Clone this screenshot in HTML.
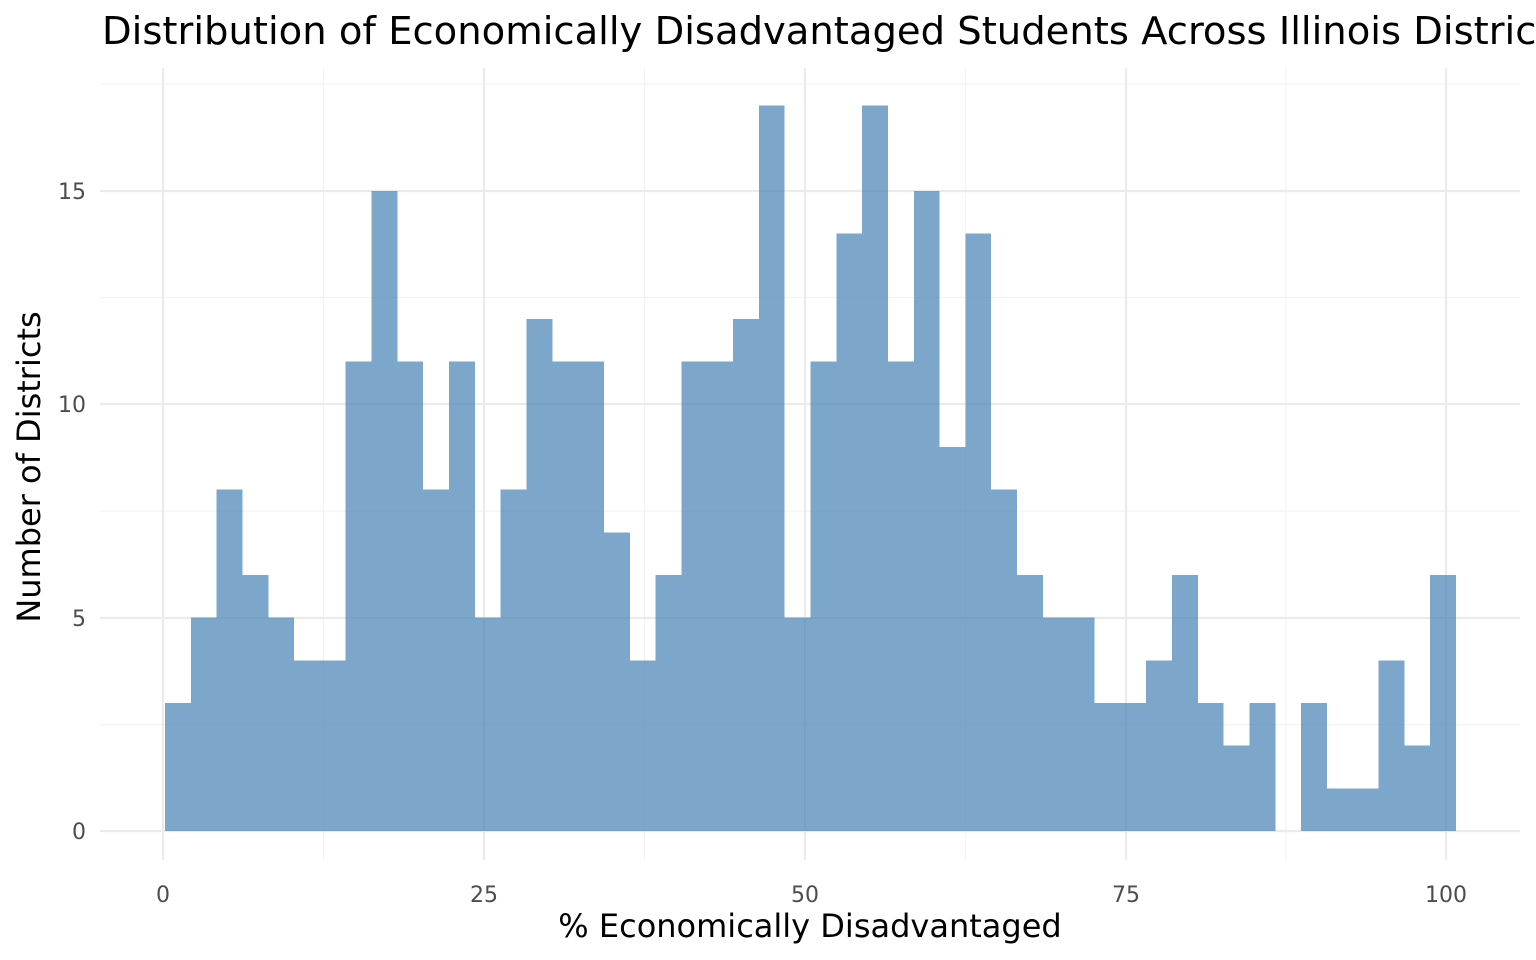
<!DOCTYPE html>
<html><head><meta charset="utf-8"><style>html,body{margin:0;padding:0;background:#fff}svg{display:block}</style></head>
<body>
<svg width="1536" height="960" xmlns="http://www.w3.org/2000/svg" font-family="DejaVu Sans, Liberation Sans, sans-serif">
<rect width="1536" height="960" fill="#fff"/>
<g stroke="#f3f3f3" stroke-width="1.2">
<line x1="100" x2="1520" y1="724.5" y2="724.5"/><line x1="100" x2="1520" y1="511" y2="511"/><line x1="100" x2="1520" y1="297.5" y2="297.5"/><line x1="100" x2="1520" y1="84" y2="84"/>
<line y1="68" y2="860" x1="323.5" x2="323.5"/><line y1="68" y2="860" x1="644.5" x2="644.5"/><line y1="68" y2="860" x1="965.5" x2="965.5"/><line y1="68" y2="860" x1="1286" x2="1286"/>
</g>
<g stroke="#ebebeb" stroke-width="2.2">
<line x1="100" x2="1520" y1="831" y2="831"/><line x1="100" x2="1520" y1="618" y2="618"/><line x1="100" x2="1520" y1="404" y2="404"/><line x1="100" x2="1520" y1="191" y2="191"/>
<line y1="68" y2="860" x1="163" x2="163"/><line y1="68" y2="860" x1="484" x2="484"/><line y1="68" y2="860" x1="805" x2="805"/><line y1="68" y2="860" x1="1126" x2="1126"/><line y1="68" y2="860" x1="1446" x2="1446"/>
</g>
<g fill="#4682b4" fill-opacity="0.7" shape-rendering="crispEdges">
<rect x="165.00" y="703.0" width="25.82" height="128.0"/>
<rect x="190.82" y="617.65" width="25.82" height="213.35"/>
<rect x="216.64" y="489.6" width="25.82" height="341.4"/>
<rect x="242.46" y="575.0" width="25.82" height="256.0"/>
<rect x="268.28" y="617.65" width="25.82" height="213.35"/>
<rect x="294.10" y="660.3" width="25.82" height="170.7"/>
<rect x="319.92" y="660.3" width="25.82" height="170.7"/>
<rect x="345.74" y="361.6" width="25.82" height="469.4"/>
<rect x="371.56" y="190.95" width="25.82" height="640.05"/>
<rect x="397.38" y="361.6" width="25.82" height="469.4"/>
<rect x="423.20" y="489.6" width="25.82" height="341.4"/>
<rect x="449.02" y="361.6" width="25.82" height="469.4"/>
<rect x="474.84" y="617.65" width="25.82" height="213.35"/>
<rect x="500.66" y="489.6" width="25.82" height="341.4"/>
<rect x="526.48" y="319.0" width="25.82" height="512.0"/>
<rect x="552.30" y="361.6" width="25.82" height="469.4"/>
<rect x="578.12" y="361.6" width="25.82" height="469.4"/>
<rect x="603.94" y="532.3" width="25.82" height="298.7"/>
<rect x="629.76" y="660.3" width="25.82" height="170.7"/>
<rect x="655.58" y="575.0" width="25.82" height="256.0"/>
<rect x="681.40" y="361.6" width="25.82" height="469.4"/>
<rect x="707.22" y="361.6" width="25.82" height="469.4"/>
<rect x="733.04" y="319.0" width="25.82" height="512.0"/>
<rect x="758.86" y="105.6" width="25.82" height="725.4"/>
<rect x="784.68" y="617.65" width="25.82" height="213.35"/>
<rect x="810.50" y="361.6" width="25.82" height="469.4"/>
<rect x="836.32" y="233.6" width="25.82" height="597.4"/>
<rect x="862.14" y="105.6" width="25.82" height="725.4"/>
<rect x="887.96" y="361.6" width="25.82" height="469.4"/>
<rect x="913.78" y="190.95" width="25.82" height="640.05"/>
<rect x="939.60" y="447.0" width="25.82" height="384.0"/>
<rect x="965.42" y="233.6" width="25.82" height="597.4"/>
<rect x="991.24" y="489.6" width="25.82" height="341.4"/>
<rect x="1017.06" y="575.0" width="25.82" height="256.0"/>
<rect x="1042.88" y="617.65" width="25.82" height="213.35"/>
<rect x="1068.70" y="617.65" width="25.82" height="213.35"/>
<rect x="1094.52" y="703.0" width="25.82" height="128.0"/>
<rect x="1120.34" y="703.0" width="25.82" height="128.0"/>
<rect x="1146.16" y="660.3" width="25.82" height="170.7"/>
<rect x="1171.98" y="575.0" width="25.82" height="256.0"/>
<rect x="1197.80" y="703.0" width="25.82" height="128.0"/>
<rect x="1223.62" y="745.66" width="25.82" height="85.34"/>
<rect x="1249.44" y="703.0" width="25.82" height="128.0"/>
<rect x="1301.08" y="703.0" width="25.82" height="128.0"/>
<rect x="1326.90" y="788.33" width="25.82" height="42.67"/>
<rect x="1352.72" y="788.33" width="25.82" height="42.67"/>
<rect x="1378.54" y="660.3" width="25.82" height="170.7"/>
<rect x="1404.36" y="745.66" width="25.82" height="85.34"/>
<rect x="1430.18" y="575.0" width="25.82" height="256.0"/>
</g>
<g font-size="22" fill="#4d4d4d" text-anchor="end">
<text x="86" y="839">0</text><text x="86" y="626">5</text><text x="86" y="412">10</text><text x="86" y="199">15</text>
</g>
<g font-size="22" fill="#4d4d4d" text-anchor="middle">
<text x="163" y="902">0</text><text x="484" y="902">25</text><text x="805" y="902">50</text><text x="1126" y="902">75</text><text x="1446" y="902">100</text>
</g>
<text x="810" y="937" font-size="32" text-anchor="middle" fill="#000">% Economically Disadvantaged</text>
<text transform="translate(40,467) rotate(-90)" font-size="32" text-anchor="middle" fill="#000">Number of Districts</text>
<text x="102" y="44" font-size="38.5" fill="#000">Distribution of Economically Disadvantaged Students Across Illinois Districts</text>
</svg>
</body></html>
